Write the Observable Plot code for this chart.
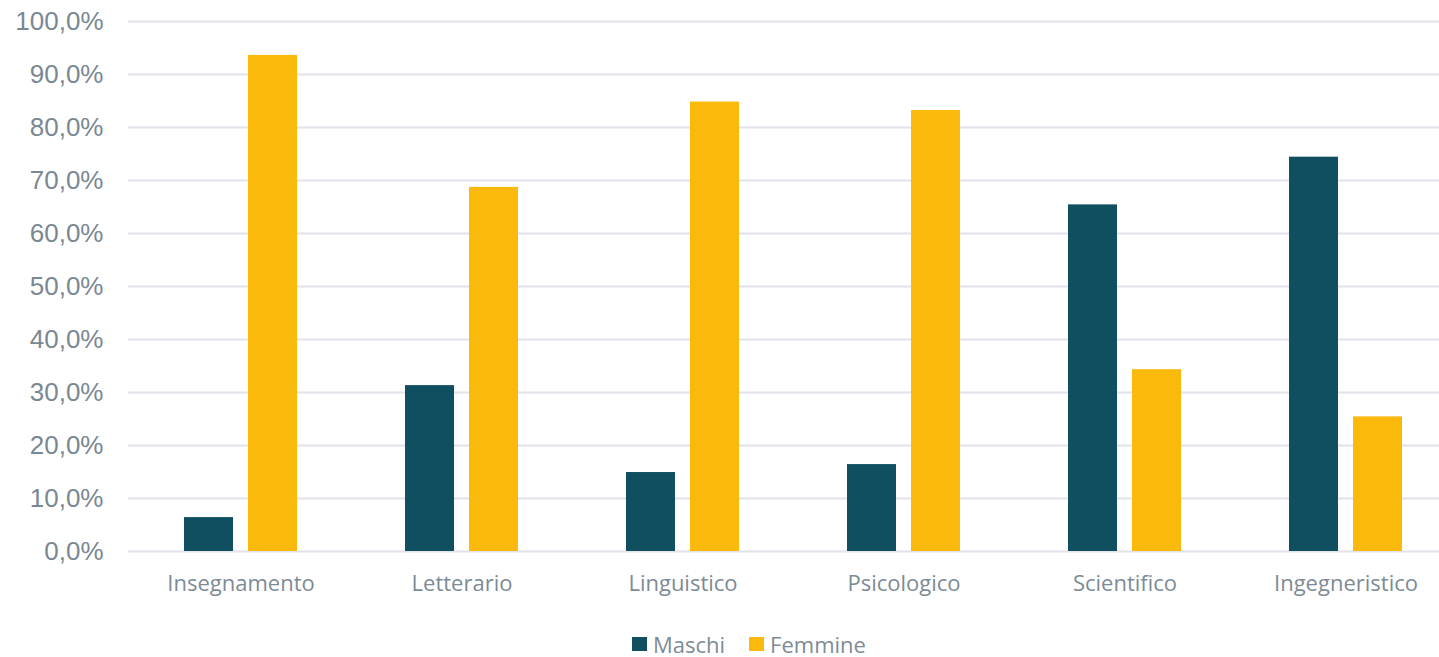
<!DOCTYPE html>
<html>
<head>
<meta charset="utf-8">
<script src="https://cdn.jsdelivr.net/npm/d3@7"></script>
<script src="https://cdn.jsdelivr.net/npm/@observablehq/plot@0.6"></script>
<style>
  body { margin: 0; background: #fff; overflow: hidden; }
  #legend { display: flex; justify-content: flex-start; align-items: center; height: 24px; line-height: 24px; margin-top: 22px;
    font-family: "Open Sans", sans-serif; font-size: 22px; color: #7d8b95; padding-left: 632px; }
  .item { display: flex; align-items: center; margin-right: 24px; }
  .sw { width: 15px; height: 14px; margin-right: 6px; }
</style>
</head>
<body>
<div id="chart"></div>
<div id="legend"></div>
<script>
const categories = ["Insegnamento", "Letterario", "Linguistico", "Psicologico", "Scientifico", "Ingegneristico"];
const series = ["Maschi", "Femmine"];
const maschi = [6.4, 31.3, 14.9, 16.4, 65.4, 74.4];
const femmine = [93.6, 68.7, 84.8, 83.2, 34.3, 25.4];
const colors = ["#0f4f5f", "#fbb90b"];
const yTicks = [0, 10, 20, 30, 40, 50, 60, 70, 80, 90, 100];

const data = [];
categories.forEach((c, i) => {
  data.push({cat: c, serie: "Maschi", v: maschi[i]});
  data.push({cat: c, serie: "Femmine", v: femmine[i]});
});

const fmt = d => d.toFixed(1).replace(".", ",") + "%";

const chart = Plot.plot({
  width: 1439,
  height: 610,
  marginTop: 21,
  marginBottom: 59,
  marginLeft: 128,
  marginRight: 0,
  x: {domain: categories, range: [130, 1456], padding: 0, label: null},
  y: {domain: [0, 100], ticks: yTicks, label: null},
  color: {domain: series, range: colors},
  marks: [
    Plot.ruleY(yTicks, {stroke: "#e2e2ea", strokeWidth: 2}),
    Plot.barY(data.filter(d => d.serie === "Maschi"), {x: "cat", y: "v", fill: "serie", insetLeft: 54, insetRight: 118}),
    Plot.barY(data.filter(d => d.serie === "Femmine"), {x: "cat", y: "v", fill: "serie", insetLeft: 118, insetRight: 54}),
    Plot.axisY({ticks: yTicks, tickFormat: fmt, tickSize: 0, tickPadding: 25, label: null,
      fontSize: 26, fill: "#7a8893", fontFamily: "Liberation Sans, Arial, sans-serif"}),
    Plot.axisX({tickSize: 0, tickPadding: 24, fontSize: 22, fill: "#7d8b95",
      fontFamily: "Open Sans, sans-serif", label: null})
  ]
});
document.getElementById("chart").appendChild(chart);

const legend = document.getElementById("legend");
series.forEach((s, i) => {
  const it = document.createElement("div");
  it.className = "item";
  const sw = document.createElement("div");
  sw.className = "sw";
  sw.style.background = colors[i];
  const t = document.createElement("span");
  t.textContent = s;
  it.appendChild(sw); it.appendChild(t);
  legend.appendChild(it);
});
</script>
</body>
</html>
